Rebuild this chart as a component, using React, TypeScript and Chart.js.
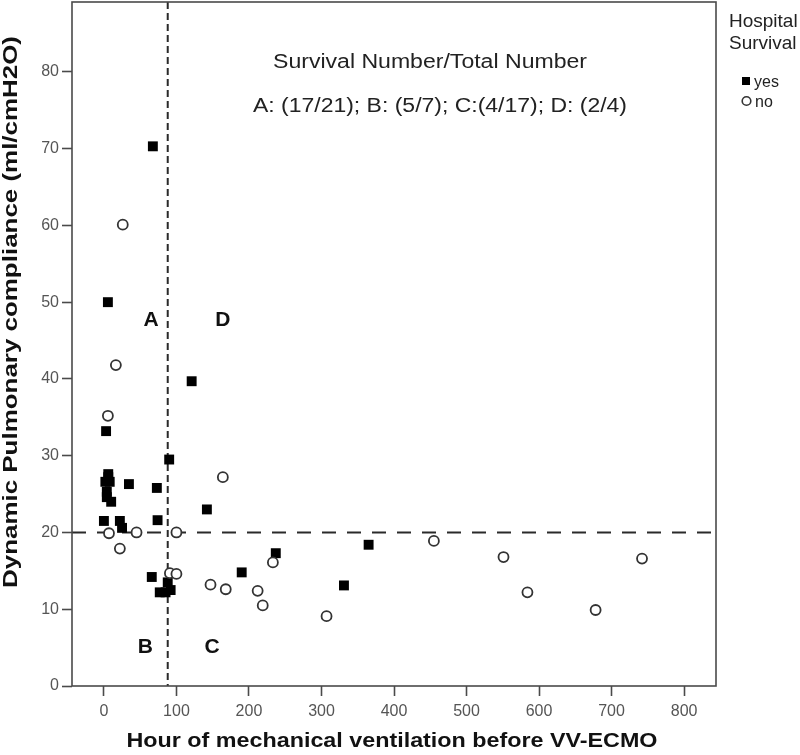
import React, { useEffect, useRef } from 'react';
import { Chart, registerables } from 'chart.js';

Chart.register(...registerables);

// Hospital survival = yes (filled squares)
const yesHours = [5.5, 67.5, 121, 3, 90, 6, 8, 2, 4, 4, 10, 34.5, 73, 142, 0, 22, 25, 74, 237, 365, 190, 66, 88, 77, 85, 331, 6, 92];
const yesCompliance = [50, 70.3, 39.7, 33.2, 29.5, 27.6, 26.6, 26.6, 25.3, 24.6, 24.0, 26.3, 25.8, 23.0, 21.5, 21.5, 20.6, 21.6, 17.3, 18.4, 14.8, 14.2, 13.5, 12.2, 12.2, 13.1, 27.2, 12.5];

// Hospital survival = no (open circles)
const noHours = [26, 16.5, 5.5, 164, 7, 45, 100, 22, 233, 455, 91, 100, 147, 168, 212, 219, 307, 551, 584, 678, 742];
const noCompliance = [60.1, 41.8, 35.2, 27.2, 19.9, 20.0, 20.0, 17.9, 16.1, 18.9, 14.7, 14.6, 13.2, 12.6, 12.4, 10.5, 9.1, 16.8, 12.2, 9.9, 16.6];

const xTicks = [0, 100, 200, 300, 400, 500, 600, 700, 800];
const yTicks = [0, 10, 20, 30, 40, 50, 60, 70, 80];

const cutoffHours = 88;
const cutoffCompliance = 20;

const quadrantLabels = ['A', 'B', 'C', 'D'];
const quadrantHours = [65, 57, 149, 164];
const quadrantCompliance = [47.7, 5.1, 5.1, 47.7];

const xTitle = 'Hour of mechanical ventilation before VV-ECMO';
const yTitle = 'Dynamic Pulmonary compliance (ml/cmH2O)';
const noteLine1 = 'Survival Number/Total Number';
const noteLine2 = 'A: (17/21); B: (5/7); C:(4/17); D: (2/4)';
const legendTitle = ['Hospital', 'Survival'];
const legendLabels = ['yes', 'no'];

const FONT = '"Liberation Sans", Arial, sans-serif';

function fitText(ctx: CanvasRenderingContext2D, text: string, cx: number, cy: number, width: number, font: string, rotate = false) {
  ctx.save();
  ctx.font = font;
  const w = ctx.measureText(text).width;
  ctx.translate(cx, cy);
  if (rotate) ctx.rotate(-Math.PI / 2);
  ctx.scale(width / w, 1);
  ctx.textAlign = 'center';
  ctx.textBaseline = 'alphabetic';
  ctx.fillText(text, 0, 0);
  ctx.restore();
}

const overlayPlugin = {
  id: 'overlay',
  beforeDatasetsDraw(chart: any) {
    const { ctx, chartArea: a, scales } = chart;
    const x = scales.x;
    const y = scales.y;
    ctx.save();
    ctx.strokeStyle = '#2a2a2a';
    ctx.lineWidth = 2;
    const vx = x.getPixelForValue(cutoffHours);
    ctx.setLineDash([7, 4]);
    ctx.beginPath();
    ctx.moveTo(vx, a.top);
    ctx.lineTo(vx, a.bottom);
    ctx.stroke();
    const hy = y.getPixelForValue(cutoffCompliance);
    ctx.setLineDash([14, 11]);
    ctx.beginPath();
    ctx.moveTo(a.left, hy);
    ctx.lineTo(a.right, hy);
    ctx.stroke();
    ctx.restore();
  },
  afterDraw(chart: any) {
    const { ctx, chartArea: a, scales } = chart;
    const x = scales.x;
    const y = scales.y;
    ctx.save();
    // plot frame
    ctx.strokeStyle = '#4a4a4a';
    ctx.lineWidth = 1.6;
    ctx.strokeRect(a.left, a.top, a.right - a.left, a.bottom - a.top);

    ctx.fillStyle = '#111';
    // quadrant letters
    ctx.font = `bold 21px ${FONT}`;
    ctx.textAlign = 'center';
    ctx.textBaseline = 'middle';
    quadrantLabels.forEach((lab, i) => {
      ctx.fillText(lab, x.getPixelForValue(quadrantHours[i]), y.getPixelForValue(quadrantCompliance[i]));
    });

    // notes
    ctx.fillStyle = '#222';
    fitText(ctx, noteLine1, 430, 68, 314, `20px ${FONT}`);
    fitText(ctx, noteLine2, 440, 112, 374, `20px ${FONT}`);

    // axis titles
    ctx.fillStyle = '#111';
    fitText(ctx, xTitle, 392, 747, 531, `bold 21px ${FONT}`);
    fitText(ctx, yTitle, 17, 312, 552, `bold 21px ${FONT}`, true);

    // legend
    ctx.fillStyle = '#222';
    ctx.font = `19px ${FONT}`;
    ctx.textAlign = 'left';
    ctx.textBaseline = 'alphabetic';
    ctx.fillText(legendTitle[0], 729, 27);
    ctx.fillText(legendTitle[1], 729, 49);
    ctx.font = `16px ${FONT}`;
    ctx.fillStyle = '#000';
    ctx.fillRect(742, 77, 8, 8);
    ctx.fillStyle = '#222';
    ctx.fillText(legendLabels[0], 754, 87);
    ctx.beginPath();
    ctx.arc(746.5, 101, 4.3, 0, Math.PI * 2);
    ctx.strokeStyle = '#333';
    ctx.lineWidth = 1.6;
    ctx.stroke();
    ctx.fillText(legendLabels[1], 755, 107);
    ctx.restore();
  },
};

export default function App() {
  const ref = useRef<HTMLCanvasElement | null>(null);
  useEffect(() => {
    if (!ref.current) return;
    const chart = new Chart(ref.current, {
      type: 'scatter',
      data: {
        datasets: [
          {
            label: 'no',
            data: noHours.map((h, i) => ({ x: h, y: noCompliance[i] })),
            pointStyle: 'circle',
            pointRadius: 5,
            pointBorderWidth: 1.8,
            borderColor: '#333',
            backgroundColor: '#fff',
            order: 0,
          },
          {
            label: 'yes',
            data: yesHours.map((h, i) => ({ x: h, y: yesCompliance[i] })),
            pointStyle: 'rect',
            pointRadius: 7,
            pointBorderWidth: 0,
            borderColor: '#000',
            backgroundColor: '#000',
            order: 1,
          },
        ],
      },
      options: {
        responsive: false,
        animation: false,
        layout: { autoPadding: false, padding: { left: 0, right: 84, top: 2, bottom: 0 } },
        plugins: { legend: { display: false }, tooltip: { enabled: false } },
        scales: {
          x: {
            type: 'linear',
            position: 'bottom',
            min: -44,
            max: 844,
            afterBuildTicks: (s: any) => { s.ticks = xTicks.map((v) => ({ value: v })); },
            afterFit: (s: any) => { s.height = 69; s.paddingLeft = 0; s.paddingRight = 0; s.paddingTop = 0; },
            grid: { drawOnChartArea: false, drawTicks: true, tickLength: 10, tickColor: '#4a4a4a', tickWidth: 1.6 } as any,
            border: { display: false },
            ticks: { color: '#555', font: { family: FONT, size: 16 }, padding: 6, maxRotation: 0, autoSkip: false },
          },
          y: {
            type: 'linear',
            min: 0,
            max: 89.1,
            afterBuildTicks: (s: any) => { s.ticks = yTicks.map((v) => ({ value: v })); },
            afterFit: (s: any) => { s.width = 72; s.paddingTop = 0; s.paddingBottom = 0; },
            grid: { drawOnChartArea: false, drawTicks: true, tickLength: 10, tickColor: '#4a4a4a', tickWidth: 1.6 } as any,
            border: { display: false },
            ticks: { color: '#555', font: { family: FONT, size: 16 }, padding: 3, autoSkip: false },
          },
        },
      },
      plugins: [overlayPlugin],
    });
    return () => chart.destroy();
  }, []);
  return (
    <div style={{ position: 'fixed', left: 0, top: 0, width: 800, height: 755, background: '#fff' }}>
      <canvas ref={ref} width={800} height={755} style={{ width: 800, height: 755 }} />
    </div>
  );
}
